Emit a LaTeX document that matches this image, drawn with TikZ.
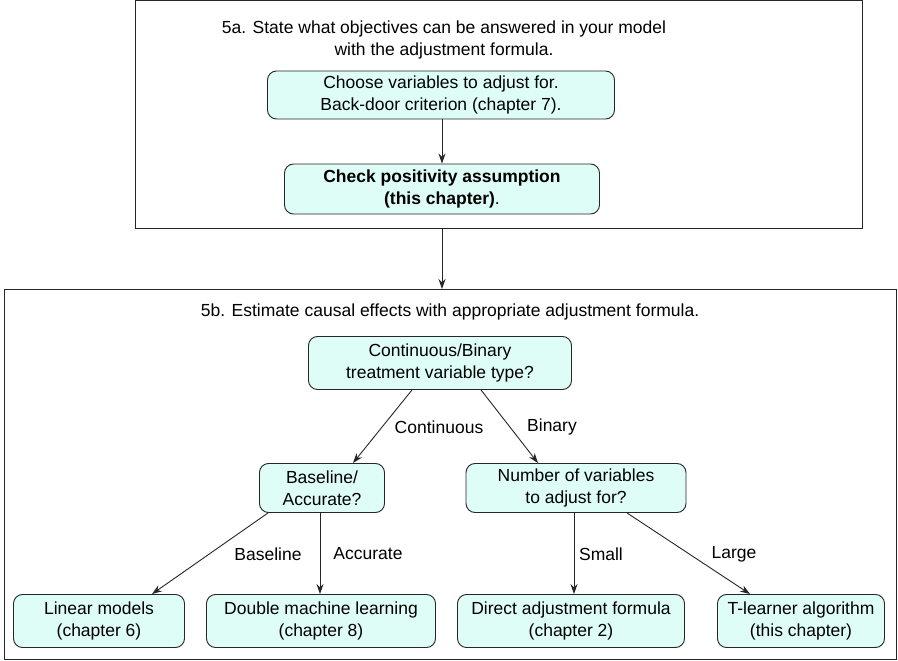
\documentclass[tikz,border=0pt]{standalone}
\usepackage{fontspec}
\setmainfont{Liberation Sans}
\usetikzlibrary{arrows.meta}
\definecolor{boxfill}{HTML}{DDFDF6}
\begin{document}
\begin{tikzpicture}[x=1pt,y=-1pt,
  font=\fontsize{17.5}{22.5}\selectfont,
  box/.style={draw=black!85,fill=boxfill,rounded corners=9pt,line width=0.9pt,align=center,inner sep=0pt},
  frame/.style={draw=black!85,line width=1pt},
  arr/.style={-{Stealth[length=10pt,width=7pt]},line width=0.9pt,black!85},
  lbl/.style={inner sep=0pt}]
\useasboundingbox (0,0) rectangle (898,661);
\draw[frame] (135,1) rectangle (862,228);
\draw[frame] (4,289) rectangle (896,659);
\node[lbl,align=center] (t5a) at (444,40) {5a. State what objectives can be answered in your model\\with the adjustment formula.};
\node[lbl] (t5b) at (450,312) {5b. Estimate causal effects with appropriate adjustment formula.};
\node[box,minimum width=347pt,minimum height=48pt] (A) at (441,95) {Choose variables to adjust for.\\Back-door criterion (chapter 7).};
\node[box,minimum width=315pt,minimum height=50pt] (B) at (442,189) {\textbf{Check positivity assumption}\\\textbf{(this chapter)}.};
\node[box,minimum width=263pt,minimum height=53pt] (C) at (440,363) {Continuous/Binary\\treatment variable type?};
\node[box,minimum width=125pt,minimum height=49pt] (D) at (322,488) {Baseline/\\Accurate?};
\node[box,minimum width=220pt,minimum height=49pt] (E) at (576,488) {Number of variables\\to adjust for?};
\node[box,minimum width=171pt,minimum height=53pt] (F) at (99,621) {Linear models\\(chapter 6)};
\node[box,minimum width=229pt,minimum height=53pt] (G) at (321,621) {Double machine learning\\(chapter 8)};
\node[box,minimum width=227pt,minimum height=53pt] (H) at (571,621) {Direct adjustment formula\\(chapter 2)};
\node[box,minimum width=167pt,minimum height=53pt] (I) at (801,621) {T-learner algorithm\\(this chapter)};
\coordinate (top1) at (442,228);
\coordinate (bot1) at (442,289);
\draw[arr] (A.south -| B) -- (B.north);
\draw[arr] (top1) -- (bot1);
\draw[arr] ([xshift=-28pt]C.south) -- ([xshift=31pt]D.north);
\draw[arr] ([xshift=41pt]C.south) -- ([xshift=-38pt]E.north);
\draw[arr] ([xshift=-54pt]D.south) -- ([xshift=53pt]F.north);
\draw[arr] ([xshift=-2pt]D.south) -- ([xshift=-1pt]G.north);
\draw[arr] ([xshift=-2pt]E.south) -- ([xshift=3pt]H.north);
\draw[arr] ([xshift=51pt]E.south) -- ([xshift=-51pt]I.north);
\node[lbl] (l1) at (439,427) {Continuous};
\node[lbl] (l2) at (552,427) {Binary};
\node[lbl] (l3) at (268,554) {Baseline};
\node[lbl] (l4) at (368,554) {Accurate};
\node[lbl] (l5) at (601,554) {Small};
\node[lbl] (l6) at (734,554) {Large};
\end{tikzpicture}
\end{document}
